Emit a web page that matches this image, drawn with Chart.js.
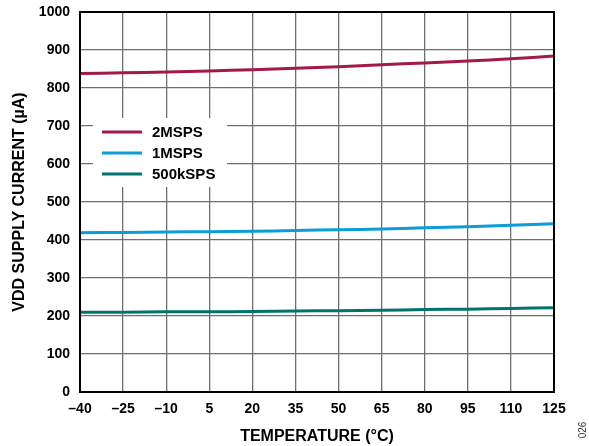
<!DOCTYPE html>
<html>
<head>
<meta charset="utf-8">
<title>VDD Supply Current vs Temperature</title>
<script src="https://cdn.jsdelivr.net/npm/chart.js@4.4.1/dist/chart.umd.min.js"></script>
<style>
  html, body { margin: 0; padding: 0; background: #fff; }
  #wrap { width: 589px; height: 446px; }
</style>
</head>
<body>
<div id="wrap"><canvas id="supplyChart" width="589" height="446"></canvas></div>
<script>
// temperature points (°C)
var temps = [-40, -25, -10, 5, 20, 35, 50, 65, 80, 95, 110, 125];

// supply current (µA) per sample rate
var cur2M   = [838, 840, 842, 845, 848, 852, 856, 861, 866, 871, 877, 884];
var cur1M   = [419, 420, 421, 422, 423, 425, 427, 429, 432, 435, 439, 443];
var cur500k = [210, 210, 211, 211, 212, 213, 214, 215, 217, 218, 220, 222];

var seriesNames  = ["2MSPS", "1MSPS", "500kSPS"];
var seriesColors = ["#a3194a", "#0a9dd8", "#00736e"];

var yTicks = [0, 100, 200, 300, 400, 500, 600, 700, 800, 900, 1000];

var FONT = "'Liberation Sans', Arial, sans-serif";

function toPoints(vals) {
  return temps.map(function (t, i) { return { x: t, y: vals[i] }; });
}

//legend box inside the plot + frame + figure number
var extras = {
  id: "extras",
  afterDatasetsDraw: function (chart) {
    var ctx = chart.ctx;
    var a = chart.chartArea;

    // frame round the plot
    ctx.save();
    ctx.strokeStyle = "#000";
    ctx.lineWidth = 2;
    ctx.strokeRect(a.left, a.top, a.right - a.left, a.bottom - a.top);

    // legend
    var lx = a.left + 13, ly = a.top + 106;
    ctx.fillStyle = "#fff";
    ctx.fillRect(lx, ly, 134, 69);
    ctx.font = "bold 15px " + FONT;
    ctx.textBaseline = "middle";
    chart.data.datasets.forEach(function (ds, i) {
      var y = ly + 14 + i * 21;
      ctx.strokeStyle = ds.borderColor;
      ctx.lineWidth = 3;
      ctx.beginPath();
      ctx.moveTo(lx + 9, y);
      ctx.lineTo(lx + 49, y);
      ctx.stroke();
      ctx.fillStyle = "#000";
      ctx.fillText(ds.label, lx + 59, y + 1);
    });

    // figure number
    ctx.translate(583, 430);
    ctx.rotate(-Math.PI / 2);
    ctx.font = "10px " + FONT;
    ctx.fillStyle = "#333";
    ctx.textAlign = "center";
    ctx.fillText("026", 0, 0);
    ctx.restore();
  }
};

new Chart("supplyChart", {
  type: "line",
  data: {
    datasets: [
      { label: seriesNames[0], data: toPoints(cur2M), borderColor: seriesColors[0] },
      { label: seriesNames[1], data: toPoints(cur1M), borderColor: seriesColors[1] },
      { label: seriesNames[2], data: toPoints(cur500k), borderColor: seriesColors[2] }
    ]
  },
  options: {
    responsive: false,
    animation: false,
    layout: { padding: { top: 12, right: 35, left: 0, bottom: 0 } },
    elements: {
      line: { borderWidth: 3, tension: 0.4, fill: false },
      point: { radius: 0 }
    },
    plugins: {
      legend: { display: false },
      tooltip: { enabled: false }
    },
    scales: {
      x: {
        type: "linear",
        min: -40,
        max: 125,
        afterBuildTicks: function (scale) {
          scale.ticks = temps.map(function (t) { return { value: t }; });
        },
        afterFit: function (scale) {
          scale.height = 54;
          scale.paddingLeft = 0;
          scale.paddingRight = 0;
        },
        grid: { color: "#6f6f6f", lineWidth: 1.3, drawTicks: false },
        border: { color: "#000", width: 2 },
        ticks: {
          color: "#000",
          padding: 9,
          maxRotation: 0,
          font: { family: FONT, size: 14, weight: "bold" },
          callback: function (v) { return String(v).replace("-", "\u2013"); }
        },
        title: {
          display: true,
          text: "TEMPERATURE (°C)",
          color: "#000",
          padding: { top: 0, bottom: 0 },
          font: { family: FONT, size: 16, weight: "bold" }
        }
      },
      y: {
        min: 0,
        max: 1000,
        afterBuildTicks: function (scale) {
          scale.ticks = yTicks.map(function (v) { return { value: v }; });
        },
        afterFit: function (scale) {
          scale.width = 80;
          scale.paddingTop = 0;
          scale.paddingBottom = 0;
        },
        grid: { color: "#6f6f6f", lineWidth: 1.3, drawTicks: false },
        border: { color: "#000", width: 2 },
        ticks: {
          color: "#000",
          padding: 10,
          font: { family: FONT, size: 14, weight: "bold" },
          callback: function (v) { return String(v); }
        },
        title: {
          display: true,
          text: "VDD SUPPLY CURRENT (µA)",
          color: "#000",
          padding: { top: 10, bottom: 0 },
          font: { family: FONT, size: 16, weight: "bold" }
        }
      }
    }
  },
  plugins: [extras]
});
</script>
</body>
</html>
